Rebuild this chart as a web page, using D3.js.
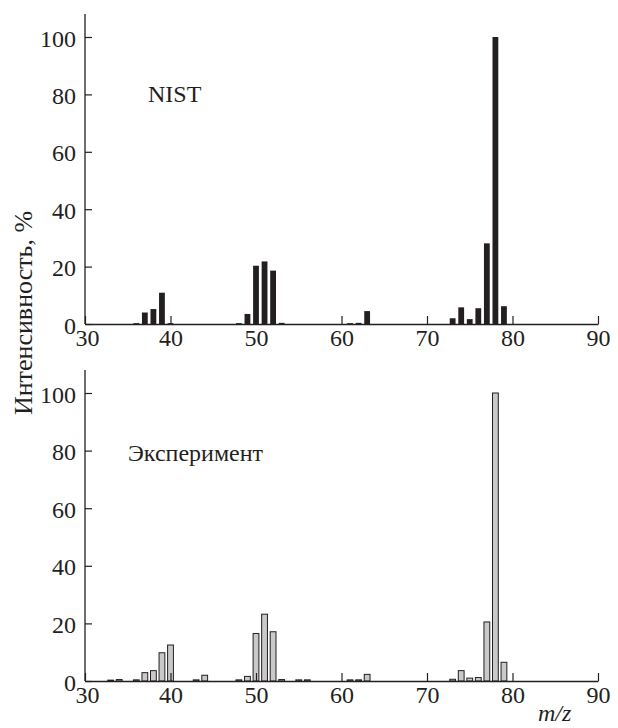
<!DOCTYPE html>
<html>
<head>
<meta charset="utf-8">
<script src="https://cdn.jsdelivr.net/npm/d3@7"></script>
<style>
  body { margin: 0; background: #fff; }
  svg text { font-family: "Liberation Serif", serif; fill: #231f20; }
</style>
</head>
<body>
<svg width="618" height="728"></svg>
<script>
// m/z values and intensities (%)
var nistMz  = [36, 37, 38, 39, 40, 48, 49, 50, 51, 52, 53, 61, 62, 63, 73, 74, 75, 76, 77, 78, 79];
var nistInt = [0.3, 4, 5.2, 10.9, 0.3, 0.3, 3.5, 20.3, 21.8, 18.6, 0.4, 0.3, 0.4, 4.5, 2, 5.8, 1.7, 5.5, 28.1, 100, 6.2];

var expMz  = [33, 34, 36, 37, 38, 39, 40, 43, 44, 48, 49, 50, 51, 52, 53, 55, 56, 61, 62, 63, 73, 74, 75, 76, 77, 78, 79];
var expInt = [0.3, 0.5, 0.4, 2.9, 3.6, 9.8, 12.5, 0.4, 2, 0.4, 1.6, 16.5, 23.2, 17.1, 0.5, 0.4, 0.4, 0.4, 0.4, 2.3, 0.6, 3.6, 1, 1.2, 20.5, 100, 6.5];

var xTicks = [30, 40, 50, 60, 70, 80, 90];
var yTicks = [0, 20, 40, 60, 80, 100];

var ink = "#231f20";
var serif = "'Liberation Serif', serif";
var svg = d3.select("svg");

var x = d3.scaleLinear().domain([30, 90]).range([85, 598]);
var barW = 5.8;

// one panel of the spectrum
function drawPanel(mz, vals, y0, y100, opts) {
  var y = d3.scaleLinear().domain([0, 100]).range([y0, y100]);
  var g = svg.append("g");

  // bars
  g.selectAll("rect")
    .data(mz.map(function(d, i) { return { m: d, v: vals[i] }; }))
    .enter().append("rect")
    .attr("x", function(d) { return x(d.m) - barW / 2; })
    .attr("width", barW)
    .attr("y", function(d) { return y(d.v); })
    .attr("height", function(d) { return Math.max(y(0) - y(d.v), 1); })
    .attr("fill", opts.fill)
    .attr("stroke", opts.stroke)
    .attr("stroke-width", opts.stroke == "none" ? 0 : 1);

  // y axis, ticks pointing inward
  var ya = g.append("g")
    .attr("transform", "translate(" + x(30) + ",0)")
    .call(d3.axisLeft(y).tickValues(yTicks).tickSizeInner(-7).tickSizeOuter(0).tickPadding(9));
  ya.select(".domain").remove();
  ya.selectAll("line").attr("stroke", ink).attr("stroke-width", 1.2);
  ya.selectAll("text").attr("fill", ink).attr("dy", "0.38em")
    .style("font-family", serif).style("font-size", "24px");
  g.append("line")
    .attr("x1", x(30)).attr("x2", x(30))
    .attr("y1", y(0)).attr("y2", y(opts.yTop))
    .attr("stroke", ink).attr("stroke-width", 1.3);

  // x axis, ticks pointing up
  var xa = g.append("g")
    .attr("transform", "translate(0," + y(0) + ")")
    .call(d3.axisBottom(x).tickValues(xTicks).tickSizeInner(-8).tickSizeOuter(0).tickPadding(5));
  xa.select(".domain").attr("stroke", ink).attr("stroke-width", 1.3);
  xa.selectAll("line").attr("stroke", ink).attr("stroke-width", 1.2);
  xa.selectAll("text").attr("fill", ink)
    .style("font-family", serif).style("font-size", "24px")
    .attr("dx", function(d) { return d == 30 ? 2 : 0; });

  g.append("text")
    .attr("x", opts.labelX).attr("y", opts.labelY)
    .style("font-size", "24px")
    .text(opts.label);
}

drawPanel(nistMz, nistInt, 324, 37, {
  fill: ink, stroke: "none", yTop: 108, label: "NIST", labelX: 148, labelY: 102
});
drawPanel(expMz, expInt, 681, 393, {
  fill: "#c9c9c9", stroke: ink, yTop: 108, label: "Эксперимент", labelX: 128, labelY: 461
});

// axis titles
svg.append("text")
  .attr("transform", "translate(32,313) rotate(-90)")
  .attr("text-anchor", "middle")
  .style("font-size", "26px")
  .text("Интенсивность, %");

svg.append("text")
  .attr("x", 538).attr("y", 721)
  .style("font-size", "24px")
  .attr("font-style", "italic")
  .text("m/z");
</script>
</body>
</html>
